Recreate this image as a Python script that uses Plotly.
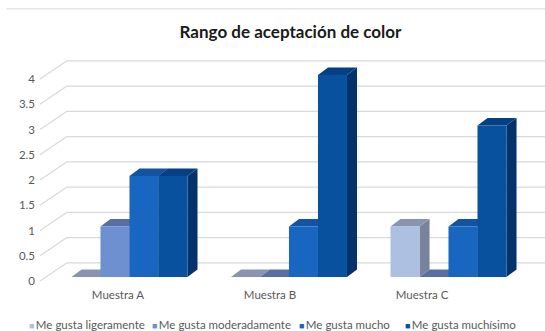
import plotly.graph_objects as go

# Survey results: colour acceptance per sample
categories = ["Muestra A", "Muestra B", "Muestra C"]
series_names = ["Me gusta ligeramente", "Me gusta moderadamente",
                "Me gusta mucho", "Me gusta muchísimo"]
ligeramente = [0, 0, 1]
moderadamente = [1, 0, 0]
mucho = [2, 1, 1]
muchisimo = [2, 4, 3]
y_ticks = [0, 0.5, 1, 1.5, 2, 2.5, 3, 3.5, 4]
y_tick_labels = ["0", "0.5", "1", "1.5", "2", "2.5", "3", "3.5", "4"]

series_values = [ligeramente, moderadamente, mucho, muchisimo]

# face colours (front, top, side) for the pseudo-3D columns
front_colors = ["#aec0e2", "#6e8fd0", "#1866c0", "#07519e"]
top_colors = ["#8894b0", "#5a6ea6", "#1253a2", "#053f84"]
side_colors = ["#78839b", "#485c8e", "#0e4180", "#03336a"]

X_RANGE = [-0.586, 2.605]
Y_RANGE = [-0.178, 4.495]
BAR_W = 0.1818            # width of one column in category units
GROUP_START = -2 * BAR_W  # left edge of the first column in a group
DEPTH_X, DEPTH_Y = 0.063, 0.15   # column depth projection
WALL_X0, WALL_DY = -0.392, 0.28  # back wall left edge / lift
DIAG_X0, DIAG_DY = -0.561, -0.08  # start of the side-wall diagonals

GRID = "#d9d9d9"
TEXT = "#595959"
FONT = "Lato"

fig = go.Figure()
shapes = []

# back wall gridlines and the side-wall diagonals leading to the tick labels
for v in y_ticks:
    shapes.append(dict(type="line", xref="x", yref="y", layer="below",
                       x0=WALL_X0, y0=v + WALL_DY, x1=X_RANGE[1], y1=v + WALL_DY,
                       line=dict(color=GRID, width=1.2)))
    shapes.append(dict(type="line", xref="x", yref="y", layer="below",
                       x0=DIAG_X0, y0=v + DIAG_DY, x1=WALL_X0, y1=v + WALL_DY,
                       line=dict(color=GRID, width=1.2)))

# side and top faces, drawn beneath the front faces of the columns
for i in range(len(categories)):
    for j, vals in enumerate(series_values):
        h = vals[i]
        xl = i + GROUP_START + j * BAR_W
        xr = xl + BAR_W
        if h > 0:
            shapes.append(dict(
                type="path", xref="x", yref="y", layer="below",
                path=(f"M{xr},{0} L{xr},{h} L{xr + DEPTH_X},{h + DEPTH_Y} "
                      f"L{xr + DEPTH_X},{DEPTH_Y} Z"),
                fillcolor=side_colors[j], line=dict(width=0)))
        shapes.append(dict(
            type="path", xref="x", yref="y", layer="below",
            path=(f"M{xl},{h} L{xr},{h} L{xr + DEPTH_X},{h + DEPTH_Y} "
                  f"L{xl + DEPTH_X},{h + DEPTH_Y} Z"),
            fillcolor=top_colors[j], line=dict(width=0)))

# front faces of the columns
for j, (name, vals) in enumerate(zip(series_names, series_values)):
    fig.add_trace(go.Bar(
        x=list(range(len(categories))), y=vals, name=name,
        width=BAR_W, offset=GROUP_START + j * BAR_W,
        marker=dict(color=front_colors[j], line=dict(width=0)),
        showlegend=False, hoverinfo="x+y+name"))

# thin frame line across the top of the chart area
shapes.append(dict(type="line", xref="paper", yref="paper", layer="above",
                   x0=-0.058, x1=1.0, y0=1.175, y1=1.175,
                   line=dict(color="#e6e6e6", width=1.5)))

annotations = []
legend_x = [27, 150, 297, 403]
for name, color, px in zip(series_names, front_colors, legend_x):
    annotations.append(dict(
        xref="paper", yref="paper", x=(px - 36) / 509, y=-0.165,
        xanchor="left", yanchor="middle", showarrow=False,
        text=f"<span style='color:{color};font-size:9px'>■</span>\u2009{name}",
        font=dict(family=FONT, size=11.5, color=TEXT)))

fig.update_layout(
    width=545, height=331,
    margin=dict(l=36, r=0, t=50, b=45),
    paper_bgcolor="white", plot_bgcolor="white",
    barmode="overlay",
    title=dict(text="<b>Rango de aceptación de color</b>",
               x=0.5, xref="paper", xanchor="center",
               y=1 - 32 / 331, yanchor="middle",
               font=dict(family=FONT, size=17, color="#1a1a1a")),
    xaxis=dict(range=X_RANGE, showgrid=False, zeroline=False, showline=False,
               tickvals=[-0.072, 0.881, 1.834], ticktext=categories,
               ticks="", tickfont=dict(family=FONT, size=11.5, color=TEXT)),
    yaxis=dict(range=Y_RANGE, showgrid=False, zeroline=False, showline=False,
               tickvals=[v + DIAG_DY for v in y_ticks], ticktext=y_tick_labels,
               ticks="", tickfont=dict(family=FONT, size=11.5, color=TEXT)),
    shapes=shapes,
    annotations=annotations,
    font=dict(family=FONT),
)

fig.write_html("out.html")
